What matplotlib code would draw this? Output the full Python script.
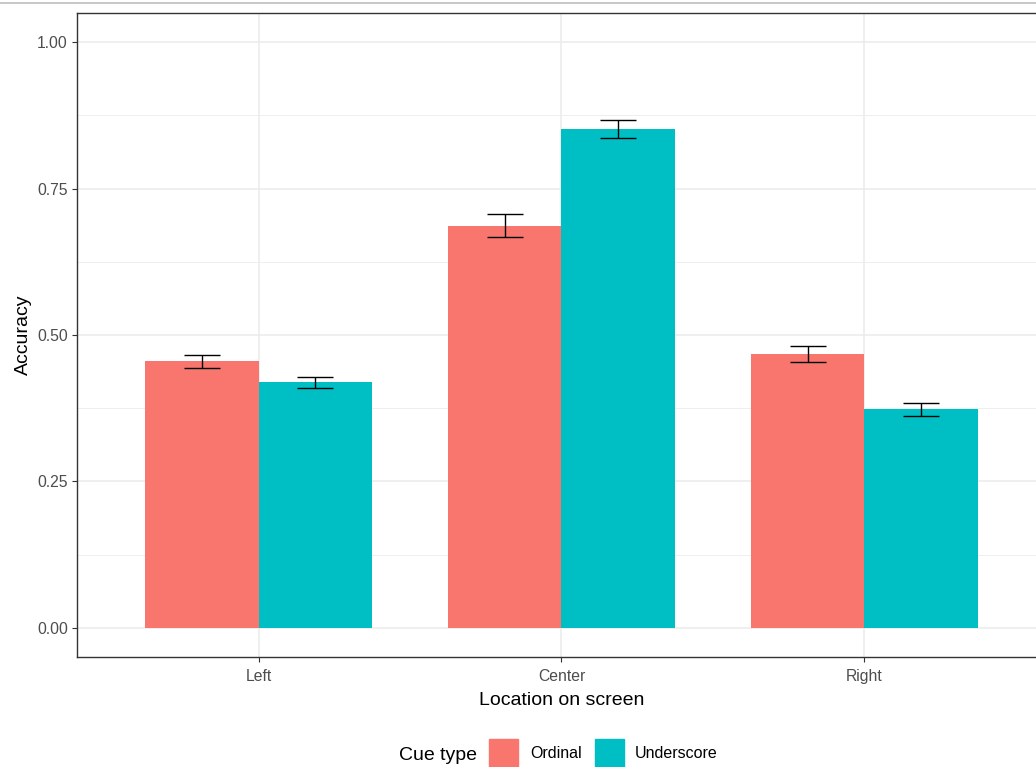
import numpy as np
import matplotlib
matplotlib.use('Agg')
import matplotlib.pyplot as plt
from matplotlib.patches import Rectangle
from matplotlib.lines import Line2D

# Accuracy by screen location and cue type
locations = ['Left', 'Center', 'Right']
cue_types = ['Ordinal', 'Underscore']
ordinal_acc = [0.455, 0.687, 0.468]
ordinal_se = [0.011, 0.020, 0.014]
underscore_acc = [0.419, 0.852, 0.373]
underscore_se = [0.0095, 0.015, 0.0117]
colors = ['#F8766D', '#00BFC4']

plt.rcParams['font.family'] = ['Liberation Sans', 'DejaVu Sans']

fig = plt.figure(figsize=(10.36, 7.67), dpi=100)
ax = fig.add_axes([77 / 1036, 110 / 767, 969 / 1036, 644 / 767])

x = np.arange(1, len(locations) + 1)
width = 0.375
series = [(ordinal_acc, ordinal_se), (underscore_acc, underscore_se)]
for i, (vals, se) in enumerate(series):
    pos = x + (i - 0.5) * width
    ax.bar(pos, vals, width=width, color=colors[i], zorder=2)
    ax.errorbar(pos, vals, yerr=se, fmt='none', ecolor='black',
                elinewidth=1.0, capsize=13.3, capthick=1.0, zorder=3)

ax.set_xlim(0.4, 3.6)
ax.set_ylim(-0.05, 1.05)
ax.set_xticks(x)
ax.set_xticklabels(locations)
ax.set_yticks([0, 0.25, 0.5, 0.75, 1.0])
ax.set_yticklabels(['0.00', '0.25', '0.50', '0.75', '1.00'])
ax.set_yticks([0.125, 0.375, 0.625, 0.875], minor=True)

ax.grid(which='major', color='#EBEBEB', linewidth=1.1, zorder=0)
ax.grid(which='minor', axis='y', color='#EEEEEE', linewidth=0.7, zorder=0)
ax.set_axisbelow(True)
for s in ax.spines.values():
    s.set_color('#333333')
    s.set_linewidth(1.0)

ax.tick_params(which='major', length=3.5, width=0.8, color='#333333',
               labelsize=11.3, labelcolor='#4D4D4D', pad=3)
ax.tick_params(axis='x', which='major', pad=5)
ax.tick_params(which='minor', length=0)

ax.set_xlabel('Location on screen', fontsize=14, color='black', labelpad=6)
ax.set_ylabel('Accuracy', fontsize=14, color='black', labelpad=4)

# bottom legend drawn in figure pixel coordinates
W, H = 1036, 767
fig.text(399 / W, 1 - 755 / H, 'Cue type', fontsize=14, va='center', ha='left')
key_x = [489, 595]
label_x = [530, 635]
for i, name in enumerate(cue_types):
    fig.patches.append(Rectangle((key_x[i] / W, 1 - 768 / H), 29 / W, 29 / H,
                                 transform=fig.transFigure, color=colors[i]))
    fig.text(label_x[i] / W, 1 - 754 / H, name, fontsize=11.5,
             va='center', ha='left')

# thin border line at the top edge
fig.lines.append(Line2D([0, 1], [1 - 2.5 / H, 1 - 2.5 / H],
                        transform=fig.transFigure, color='#BDBDBD', lw=1.2))

fig.savefig('out.png', dpi=100)
